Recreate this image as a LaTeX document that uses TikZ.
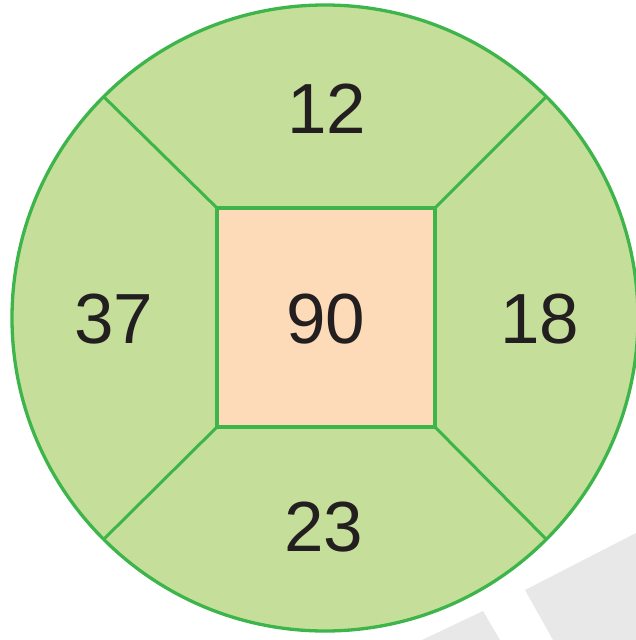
\documentclass[tikz,border=0pt]{standalone}
\usepackage{fontspec}
\setmainfont{Liberation Sans}
\definecolor{ringfill}{HTML}{C5DF9B}
\definecolor{ringline}{HTML}{3DB54A}
\definecolor{boxfill}{HTML}{FDDAB8}
\definecolor{numcol}{HTML}{231F20}
\definecolor{greyband}{HTML}{E8E8E8}
\begin{document}
\begin{tikzpicture}[x=1pt,y=-1pt,
  numlabel/.style={text=numcol,font=\fontsize{71}{80}\selectfont,inner sep=0pt,anchor=center},
  outline/.style={draw=ringline,line width=3.3pt},
  divider/.style={draw=ringline,line width=3pt}]
\useasboundingbox (0,0) rectangle (636,640);
\begin{scope}
\clip (0,0) rectangle (636,640);
\fill[greyband] (483,611) -- (239,727) -- (299,829) -- (543,713) -- cycle;
\fill[greyband] (525,590) -- (747,476) -- (831,626) -- (609,740) -- cycle;
\end{scope}
\coordinate (c) at (325,318);
\fill[ringfill] (c) circle[radius=314];
\coordinate (q1) at (217,208);
\coordinate (q2) at (435,208);
\coordinate (q3) at (435,427);
\coordinate (q4) at (217,427);
\coordinate (r1) at (103,96);
\coordinate (r2) at (547,96);
\coordinate (r3) at (547,540);
\coordinate (r4) at (103,540);
\draw[divider] (q1) -- (r1);
\draw[divider] (q2) -- (r2);
\draw[divider] (q3) -- (r3);
\draw[divider] (q4) -- (r4);
\draw[outline] (c) circle[radius=313];
\draw[outline,fill=boxfill] (q1) rectangle (q3);
\node[numlabel] (top) at (327,109) {12};
\node[numlabel] (left) at (114,319) {37};
\node[numlabel] (mid) at (326,319) {90};
\node[numlabel] (right) at (540,319) {18};
\node[numlabel] (bottom) at (324,527) {23};
\end{tikzpicture}
\end{document}
